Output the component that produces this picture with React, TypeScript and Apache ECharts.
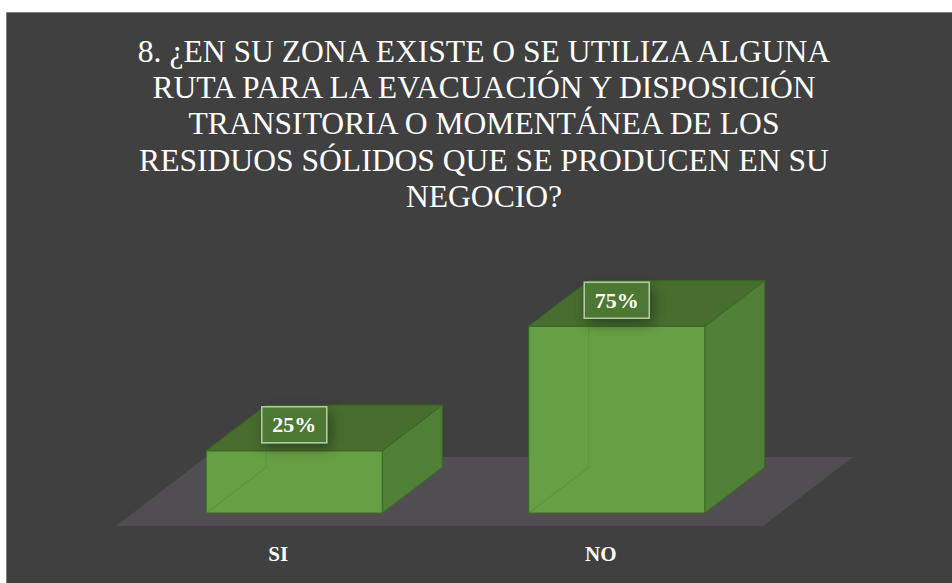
import React, { useEffect, useRef } from "react";
import * as echarts from "echarts";

const categories = ["SI", "NO"];
const values = [25, 75];
const valueLabels = ["25%", "75%"];
const titleLines = [
  "8. ¿EN SU ZONA EXISTE O SE UTILIZA ALGUNA",
  "RUTA PARA LA EVACUACIÓN Y DISPOSICIÓN",
  "TRANSITORIA O MOMENTÁNEA DE LOS",
  "RESIDUOS SÓLIDOS QUE SE PRODUCEN EN SU",
  "NEGOCIO?",
];

const SERIF = "Liberation Serif";

export default function App() {
  const ref = useRef<HTMLDivElement>(null);
  useEffect(() => {
    if (!ref.current) return;
    const chart = echarts.init(ref.current, undefined, { renderer: "svg" });
    const renderItem = (params: any, api: any) => {
      const idx = api.value(0);
      const val = api.value(1);
      const top = api.coord([idx, val]);
      const base = api.coord([idx, 0]);
      const band = api.size([1, 0])[0];
      const bw = band * 0.546;
      const half = bw / 2;
      const dx = band * 0.186;
      const dy = -dx * 0.76;
      const cx = top[0];
      const ty = top[1];
      const by = base[1];
      const edge = "#3d6626";
      const lx = cx - half;
      const rx = cx + half;
      const label = valueLabels[params.dataIndex];
      return {
        type: "group",
        children: [
          {
            type: "polygon",
            shape: { points: [[rx, ty], [rx + dx, ty + dy], [rx + dx, by + dy], [rx, by]] },
            style: { fill: "#507f36", stroke: edge, lineWidth: 1 },
          },
          {
            type: "rect",
            shape: { x: lx, y: ty, width: bw, height: by - ty },
            style: { fill: "#67a044", stroke: edge, lineWidth: 1 },
          },
          {
            type: "line",
            shape: { x1: lx, y1: by, x2: lx + dx, y2: by + dy },
            style: { stroke: "rgba(60,100,40,0.25)", lineWidth: 1 },
          },
          {
            type: "line",
            shape: { x1: lx + dx, y1: by + dy, x2: lx + dx, y2: ty },
            style: { stroke: "rgba(60,100,40,0.2)", lineWidth: 1 },
          },
          {
            type: "polygon",
            shape: { points: [[lx, ty], [lx + dx, ty + dy], [rx + dx, ty + dy], [rx, ty]] },
            style: { fill: "#476e2e", stroke: edge, lineWidth: 1 },
          },
          {
            type: "rect",
            shape: { x: cx - 32.5, y: ty - 44, width: 65, height: 36 },
            style: {
              fill: "rgba(80,125,55,0.85)",
              stroke: "#b3c9a5",
              lineWidth: 1.5,
              shadowColor: "rgba(0,0,0,0.45)",
              shadowBlur: 14,
              shadowOffsetX: 3,
              shadowOffsetY: 5,
            },
          },
          {
            type: "text",
            style: {
              text: label,
              x: cx,
              y: ty - 26,
              align: "center",
              verticalAlign: "middle",
              fill: "#ffffff",
              fontFamily: SERIF,
              fontWeight: "bold",
              fontSize: 22,
            },
          },
        ],
      };
    };
    const titleGraphics = titleLines.map((line, i) => ({
      type: "text",
      z: 10,
      silent: true,
      style: {
        text: line,
        x: 484,
        y: 51.3 + i * 36.25,
        align: "center",
        verticalAlign: "middle",
        fill: "#ffffff",
        fontFamily: SERIF,
        fontSize: 31.6,
      },
    }));
    chart.setOption({
      animation: false,
      backgroundColor: "#ffffff",
      graphic: [
        {
          type: "rect",
          z: -10,
          shape: { x: 6.5, y: 12.5, width: 960, height: 600 },
          style: { fill: "#404040", stroke: "#7f7f7f", lineWidth: 1 },
          silent: true,
        },
        {
          type: "polygon",
          z: -9,
          shape: { points: [[116, 526], [763, 526], [853, 457], [206, 457]] },
          style: { fill: "#504e51" },
          silent: true,
        },
        ...titleGraphics,
      ],
      grid: { left: 133, right: 174, top: 264, bottom: 70 },
      xAxis: {
        type: "category",
        data: categories,
        axisLine: { show: false },
        axisTick: { show: false },
        axisLabel: {
          margin: 30,
          formatter: "{a|{value}}",
          rich: {
            a: {
              color: "#ffffff",
              fontFamily: SERIF,
              fontWeight: "bold",
              fontSize: 21,
              padding: [0, 32, 0, 0],
            },
          },
        },
      },
      yAxis: {
        type: "value",
        min: 0,
        max: 100,
        show: false,
        splitLine: { show: false },
      },
      series: [
        {
          type: "custom",
          renderItem,
          data: categories.map((c, i) => [i, values[i]]),
        },
      ],
    });
    return () => chart.dispose();
  }, []);
  return (
    <div
      ref={ref}
      style={{ position: "absolute", left: 0, top: 0, width: 952, height: 583 }}
    />
  );
}
